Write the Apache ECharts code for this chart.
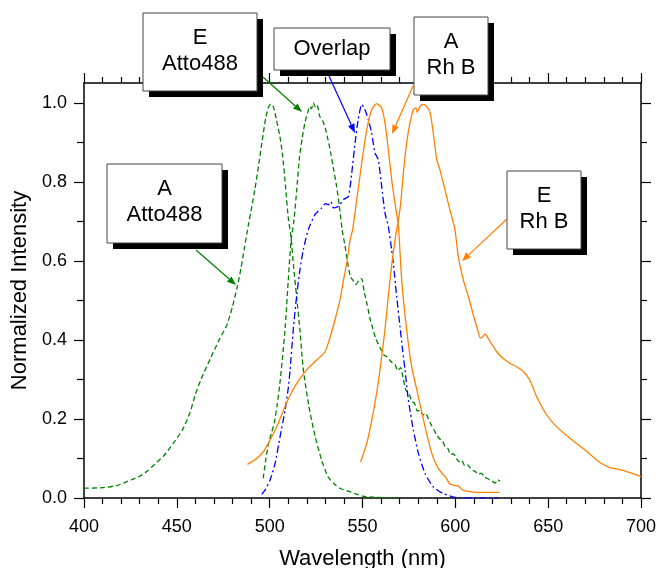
<!DOCTYPE html>
<html>
<head>
<meta charset="utf-8">
<script src="https://cdn.jsdelivr.net/npm/echarts@6/dist/echarts.min.js"></script>
<style>
html, body { margin: 0; padding: 0; background: #fff; }
#main { width: 659px; height: 568px; }
</style>
</head>
<body>
<div id="main"></div>
<script>
// spectra: [wavelength (nm), normalized intensity]
const absAtto488 = [
  [400, 0.025], [410, 0.026], [418, 0.032], [425, 0.045], [430, 0.055], [434, 0.068],
  [438, 0.085], [443, 0.107], [448, 0.138], [453, 0.172], [457, 0.215], [460, 0.262],
  [463, 0.3], [468, 0.352], [473, 0.402], [477, 0.438], [480, 0.485], [482.5, 0.533],
  [484.5, 0.58], [486.5, 0.635], [488.5, 0.69], [490.5, 0.74], [492, 0.78], [494, 0.84],
  [496, 0.905], [498, 0.965], [499.5, 0.99], [500.5, 0.997], [502, 0.99], [503.5, 0.96],
  [505.5, 0.915], [507, 0.865], [508.5, 0.79], [510, 0.71], [511.5, 0.66], [513, 0.58],
  [514.5, 0.51], [516.3, 0.425], [518, 0.33], [521, 0.235], [524.5, 0.155], [528, 0.096],
  [531.5, 0.053], [535, 0.035], [538, 0.024], [542, 0.018], [546, 0.011], [550, 0.005],
  [556, 0.002], [562, 0.001], [568, 0.0]
];
const emAtto488 = [
  [496.5, 0.05], [498, 0.1], [499.5, 0.14], [501, 0.165], [502.5, 0.19], [504, 0.235],
  [505.5, 0.29], [507, 0.36], [508.5, 0.44], [510, 0.55], [511.5, 0.65], [513, 0.7],
  [514.5, 0.775], [516, 0.86], [517.5, 0.91], [519, 0.95], [520.5, 0.975], [521.5, 0.99],
  [522.5, 0.985], [523.5, 1.0], [524.5, 0.99], [525.5, 0.995], [527, 0.965], [528.5, 0.955],
  [530, 0.935], [531.5, 0.905], [533, 0.87], [534.5, 0.83], [536, 0.79], [537.5, 0.74],
  [539, 0.68], [540.5, 0.64], [542, 0.595], [543.5, 0.56], [545, 0.55], [546.5, 0.54],
  [548, 0.55], [549.5, 0.555], [551, 0.52], [552.5, 0.49], [554, 0.455], [555.5, 0.43],
  [557, 0.405], [558.5, 0.39], [560, 0.375], [561.5, 0.362], [563, 0.358], [564.5, 0.35],
  [566, 0.342], [567.5, 0.338], [569, 0.322], [570.5, 0.33], [572, 0.3], [573.5, 0.272],
  [575, 0.265], [576.5, 0.245], [578, 0.24], [579.5, 0.22], [581, 0.222], [582.5, 0.21],
  [584, 0.214], [585.5, 0.2], [587, 0.185], [588.5, 0.172], [590, 0.16], [591.5, 0.15],
  [593, 0.145], [594.5, 0.13], [596, 0.125], [597.5, 0.11], [599, 0.112], [600.5, 0.1],
  [602, 0.092], [603.5, 0.095], [605, 0.082], [606.5, 0.085], [608, 0.076], [609.5, 0.07],
  [611, 0.066], [612.5, 0.06], [614, 0.063], [615.5, 0.054], [617, 0.05], [618.5, 0.046],
  [620, 0.042], [621.5, 0.038], [623, 0.046], [624, 0.042]
];
const overlap = [
  [495.7, 0.009], [497.5, 0.02], [500.2, 0.045], [502.9, 0.087], [505.6, 0.155], [508.3, 0.222],
  [510.1, 0.281], [511, 0.324], [512.7, 0.425], [514.5, 0.51], [516.3, 0.577], [518.1, 0.628],
  [520.8, 0.679], [524.4, 0.717], [528, 0.734], [530, 0.745], [531.6, 0.742], [533, 0.75],
  [534.3, 0.734], [537, 0.738], [537.9, 0.742], [539.7, 0.755], [542.4, 0.763], [544.2, 0.822],
  [546, 0.899], [547.7, 0.958], [549.6, 0.996], [551.3, 0.983], [553.1, 0.958], [554.9, 0.924],
  [556.7, 0.873], [558.5, 0.856], [560.3, 0.789], [562.1, 0.721], [563.9, 0.687], [565.7, 0.628],
  [566.6, 0.594], [568.4, 0.51], [570.2, 0.434], [571.6, 0.374], [572.9, 0.324], [574.7, 0.248],
  [577.4, 0.172], [580.1, 0.113], [583.7, 0.062], [588.1, 0.028], [593.5, 0.011], [600.7, 0.001],
  [610, 0.0], [623, 0.0]
];
const absRhB = [
  [488, 0.085], [493, 0.1], [496.6, 0.117], [500.2, 0.146], [503.8, 0.18], [507.4, 0.222],
  [511, 0.26], [514.6, 0.29], [519.9, 0.324], [525.3, 0.349], [529.8, 0.37], [532.5, 0.406],
  [535.2, 0.451], [537.9, 0.501], [539.5, 0.545], [541.5, 0.594], [543.3, 0.653], [544.7, 0.679],
  [546.9, 0.755], [549.6, 0.848], [552.3, 0.932], [555, 0.983], [557.6, 0.998], [560.3, 0.987],
  [562.1, 0.949], [563.9, 0.882], [565.7, 0.806], [567.5, 0.746], [569.3, 0.69], [571.1, 0.552],
  [573.8, 0.425], [576.5, 0.332], [580.1, 0.256], [583.7, 0.18], [587.3, 0.113], [590.8, 0.075],
  [595.3, 0.049], [597.1, 0.035], [601.6, 0.03], [604.3, 0.019], [613.3, 0.014], [623.7, 0.014]
];
const emRhB = [
  [549, 0.091], [552.3, 0.138], [555, 0.197], [557.6, 0.265], [559.4, 0.324], [562.1, 0.425],
  [564.8, 0.552], [567.5, 0.653], [570.2, 0.73], [572, 0.822], [573.8, 0.899], [575.6, 0.949],
  [577.4, 0.983], [578.8, 0.987], [579.5, 0.976], [581, 0.991], [582.7, 0.996], [584.5, 0.991],
  [586.4, 0.975], [588.1, 0.924], [590, 0.856], [591.7, 0.831], [594.4, 0.78], [597.1, 0.729],
  [599.8, 0.679], [601.6, 0.611], [604.3, 0.552], [607, 0.51], [609.7, 0.463], [611.5, 0.434],
  [613.6, 0.404], [615, 0.41], [616, 0.415], [618.7, 0.396], [622.3, 0.37], [625.8, 0.353],
  [629.4, 0.341], [633, 0.332], [636.6, 0.32], [640.2, 0.298], [643.8, 0.256], [649.2, 0.21],
  [654.6, 0.18], [661.8, 0.151], [668.9, 0.125], [672.5, 0.111], [677.9, 0.09], [683.3, 0.077],
  [688.7, 0.072], [694.1, 0.064], [699.5, 0.055], [700, 0.054]
];

const yMajor = [0, 0.2, 0.4, 0.6, 0.8, 1.0];
const yMinor = [0.1, 0.3, 0.5, 0.7, 0.9];

const FONT = "'Liberation Sans', Arial, Helvetica, sans-serif";
const GREEN = '#008000', BLUE = '#0000ff', ORANGE = '#ff8000';

let chart = echarts.init(document.getElementById('main'));

function yAxisDef(position, values, tickLen, withLabels, withLine) {
  return {
    type: 'value', position: position, min: 0, max: 1.05,
    axisLine: { show: withLine, lineStyle: { color: '#000', width: 1.5 } },
    axisTick: { show: true, customValues: values, length: tickLen, lineStyle: { color: '#000', width: 1.2 } },
    axisLabel: withLabels ? {
      show: true, customValues: values, margin: 17, color: '#000',
      fontFamily: FONT, fontSize: 18, formatter: v => v.toFixed(1)
    } : { show: false },
    splitLine: { show: false }
  };
}

function xAxisDef(position, withLabels) {
  return {
    type: 'value', position: position, min: 400, max: 700, interval: 50,
    axisLine: { show: true, onZero: false, lineStyle: { color: '#000', width: 1.5 } },
    axisTick: { show: true, length: 10, lineStyle: { color: '#000', width: 1.2 } },
    minorTick: { show: true, splitNumber: 5, length: 6, lineStyle: { color: '#000', width: 1.2 } },
    axisLabel: withLabels ? { show: true, margin: 20, color: '#000', fontFamily: FONT, fontSize: 18 } : { show: false },
    splitLine: { show: false },
    name: withLabels ? 'Wavelength (nm)' : '',
    nameLocation: 'middle', nameGap: 50,
    nameTextStyle: { fontFamily: FONT, fontSize: 22, color: '#000' }
  };
}

function spectrum(name, data, color, type) {
  return {
    name: name, type: 'line', data: data, showSymbol: false, smooth: 0.2,
    xAxisIndex: 0, yAxisIndex: 0,
    lineStyle: { color: color, width: 1.3, type: type },
    itemStyle: { color: color }
  };
}

// text boxes with drop shadow
function box(x, y, w, h, lines) {
  let els = [
    { type: 'rect', z: 100, shape: { x: x + 6, y: y + 6, width: w, height: h }, style: { fill: '#000' } },
    { type: 'rect', z: 101, shape: { x: x, y: y, width: w, height: h }, style: { fill: '#fff', stroke: '#444', lineWidth: 1 } }
  ];
  lines.forEach((t, i) => {
    els.push({
      type: 'text', z: 102,
      style: {
        text: t, x: x + w / 2, y: lines.length === 1 ? y + h / 2 : y + 25 + i * 26,
        font: '22px ' + FONT, fill: '#000', textAlign: 'center', textVerticalAlign: 'middle'
      }
    });
  });
  return els;
}

function arrow(x1, y1, x2, y2, color) {
  const a = Math.atan2(y2 - y1, x2 - x1);
  const L = 9, W = 3.5;
  const bx = x2 - L * Math.cos(a), by = y2 - L * Math.sin(a);
  const px = -Math.sin(a) * W, py = Math.cos(a) * W;
  return [
    { type: 'line', z: 99, shape: { x1: x1, y1: y1, x2: bx, y2: by }, style: { stroke: color, lineWidth: 1.2 } },
    { type: 'polygon', z: 99, shape: { points: [[x2, y2], [bx + px, by + py], [bx - px, by - py]] }, style: { fill: color } }
  ];
}

let graphics = [].concat(
  box(143, 13, 114, 78, ['E', 'Atto488']),
  box(274, 28, 116, 42, ['Overlap']),
  box(414, 17, 74, 78, ['A', 'Rh B']),
  box(507, 171, 74, 78, ['E', 'Rh B']),
  box(107, 164, 115, 79, ['A', 'Atto488']),
  arrow(263, 77, 302, 112, GREEN),
  arrow(196, 250, 236, 285, GREEN),
  arrow(329, 76, 355, 133, BLUE),
  arrow(413, 86, 392, 134, ORANGE),
  arrow(507, 219, 462, 261, ORANGE)
);

chart.setOption({
  animation: false,
  backgroundColor: '#fff',
  grid: { left: 84, right: 18, top: 83, bottom: 70, containLabel: false, outerBoundsMode: 'none' },
  xAxis: [xAxisDef('bottom', true), xAxisDef('top', false)],
  yAxis: [
    Object.assign(yAxisDef('left', yMajor, 10, true, true), {
      name: 'Normalized Intensity', nameLocation: 'middle', nameGap: 43,
      nameTextStyle: { fontFamily: FONT, fontSize: 22, color: '#000' }
    }),
    yAxisDef('left', yMinor, 7, false, false),
    yAxisDef('right', yMajor, 10, false, true),
    yAxisDef('right', yMinor, 6, false, false)
  ],
  series: [
    spectrum('A Atto488', absAtto488, GREEN, [5, 3]),
    spectrum('E Atto488', emAtto488, GREEN, [5, 3]),
    spectrum('Overlap', overlap, BLUE, [7, 3, 2, 3]),
    spectrum('A Rh B', absRhB, ORANGE, 'solid'),
    spectrum('E Rh B', emRhB, ORANGE, 'solid')
  ],
  graphic: graphics
});
</script>
</body>
</html>
